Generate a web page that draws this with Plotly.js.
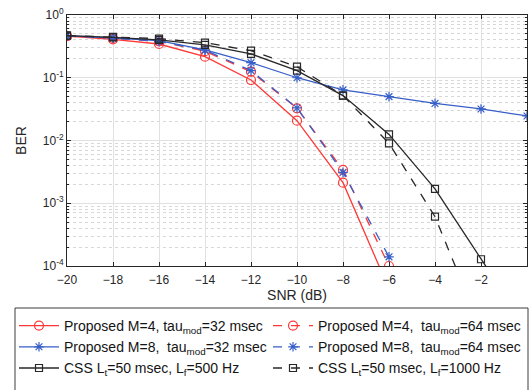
<!DOCTYPE html>
<html>
<head>
<meta charset="utf-8">
<script src="https://cdn.plot.ly/plotly-3.0.1.min.js"></script>
<style>html,body{margin:0;padding:0;background:#fff;}#chart{width:529px;height:390px;}</style>
</head>
<body>
<div id="chart"></div>
<script>
const snr = [-20, -18, -16, -14, -12, -10, -8, -6, -4, -2, 0];
const snrShort = [-20, -18, -16, -14, -12, -10, -8, -6];
const snrCss = [-20, -18, -16, -14, -12, -10, -8, -6, -4, -2, 0];

const berM4_32 = [0.46, 0.41, 0.345, 0.217, 0.092, 0.0207, 0.00213, 0.000043];
const berM4_64 = [0.46, 0.43, 0.38, 0.265, 0.125, 0.0326, 0.0034, 0.0001];
const berM8_32 = [0.47, 0.43, 0.39, 0.277, 0.174, 0.1, 0.064, 0.050, 0.039, 0.0318, 0.0246];
const berM8_64 = [0.47, 0.43, 0.38, 0.275, 0.13, 0.033, 0.0031, 0.00014];
const berCss500 = [0.47, 0.44, 0.40, 0.333, 0.24, 0.13, 0.052, 0.0125, 0.00169, 0.000128, 0.00001];
const berCss1000 = [0.47, 0.45, 0.42, 0.362, 0.27, 0.15, 0.052, 0.009, 0.00061, 0.00001, 0.000001];

const names = [
  'Proposed M=4, tau<sub>mod</sub>=32 msec',
  'Proposed M=4,  tau<sub>mod</sub>=64 msec',
  'Proposed M=8,  tau<sub>mod</sub>=32 msec',
  'Proposed M=8,  tau<sub>mod</sub>=64 msec',
  'CSS L<sub>t</sub>=50 msec, L<sub>f</sub>=500 Hz',
  'CSS L<sub>t</sub>=50 msec, L<sub>f</sub>=1000 Hz'
];
const yTickVals = [1, 0.1, 0.01, 0.001, 0.0001];
const yTickText = ['10<sup>0</sup>', '10<sup>-1</sup>', '10<sup>-2</sup>', '10<sup>-3</sup>', '10<sup>-4</sup>'];
const xTickVals = [-20, -18, -16, -14, -12, -10, -8, -6, -4, -2, 0];

const red = 'rgb(255,55,55)';
const blue = 'rgb(55,95,200)';
const black = 'rgb(40,40,40)';

function tr(x, y, name, color, dash, symbol, size, legend) {
  return {
    x: x, y: y, name: name, type: 'scatter', mode: 'lines+markers',
    legend: legend,
    line: {color: color, width: 1.3, dash: dash},
    marker: {symbol: symbol, size: size, color: color, line: {color: color, width: 1.2}}
  };
}

const data = [
  tr(snrShort, berM4_32, names[0], red, 'solid', 'circle-open', 9, 'legend'),
  tr(snrShort, berM4_64, names[1], red, 'dash', 'circle-open', 9, 'legend2'),
  tr(snr, berM8_32, names[2], blue, 'solid', 'asterisk-open', 8, 'legend'),
  tr(snrShort, berM8_64, names[3], blue, 'dash', 'asterisk-open', 8, 'legend2'),
  tr(snrCss, berCss500, names[4], black, 'solid', 'square-open', 7, 'legend'),
  tr(snrCss, berCss1000, names[5], black, 'dash', 'square-open', 7, 'legend2')
];

const axisColor = 'rgb(38,38,38)';
const plotW = 460, plotH = 251, mL = 67, mT = 15;
const legendBase = {
  orientation: 'v', xref: 'paper', yref: 'paper', yanchor: 'top', xanchor: 'left',
  borderwidth: 0, bgcolor: 'rgba(0,0,0,0)',
  font: {size: 14, color: 'rgb(20,20,20)'},
  itemwidth: 40, tracegroupgap: 0
};
const layout = {
  width: 529, height: 390,
  margin: {l: mL, r: 2, t: mT, b: 124},
  paper_bgcolor: '#fff', plot_bgcolor: '#fff',
  font: {family: 'Liberation Sans, Arial, sans-serif', size: 12, color: axisColor},
  showlegend: true,
  xaxis: {
    range: [-20, 0], tickvals: xTickVals, ticks: 'inside', ticklen: 4,
    tickcolor: axisColor, showline: true, linecolor: axisColor, linewidth: 1, mirror: 'ticks',
    showgrid: true, gridcolor: 'rgb(225,225,225)', gridwidth: 1, zeroline: false,
    tickfont: {size: 12, color: axisColor}, ticklabelstandoff: 3,
    title: {text: 'SNR (dB)', font: {size: 14, color: axisColor}, standoff: 3}
  },
  yaxis: {
    type: 'log', range: [-4, 0], tickvals: yTickVals, ticktext: yTickText,
    ticks: 'inside', ticklen: 4, tickcolor: axisColor,
    showline: true, linecolor: axisColor, linewidth: 1, mirror: 'ticks',
    showgrid: true, gridcolor: 'rgb(225,225,225)', gridwidth: 1, zeroline: false,
    tickfont: {size: 12, color: axisColor},
    minor: {dtick: 'D1', showgrid: true, gridcolor: 'rgb(215,215,215)', griddash: 'dot', ticks: 'inside', ticklen: 2, tickcolor: axisColor},
    title: {text: 'BER', font: {size: 14, color: axisColor}, standoff: 12}
  },
  legend: Object.assign({}, legendBase, {x: (14 - mL) / plotW, y: -(310 - mT - plotH) / plotH}),
  legend2: Object.assign({}, legendBase, {x: (268 - mL) / plotW, y: -(310 - mT - plotH) / plotH}),
  shapes: [{
    type: 'rect', xref: 'paper', yref: 'paper',
    x0: (15 - mL) / plotW, x1: (528 - mL) / plotW,
    y0: -(400 - mT - plotH) / plotH, y1: -(308 - mT - plotH) / plotH,
    line: {color: 'rgb(60,60,60)', width: 1}, fillcolor: 'rgba(0,0,0,0)', layer: 'above'
  }]
};
Plotly.newPlot('chart', data, layout, {displayModeBar: false, staticPlot: true});
</script>
</body>
</html>
